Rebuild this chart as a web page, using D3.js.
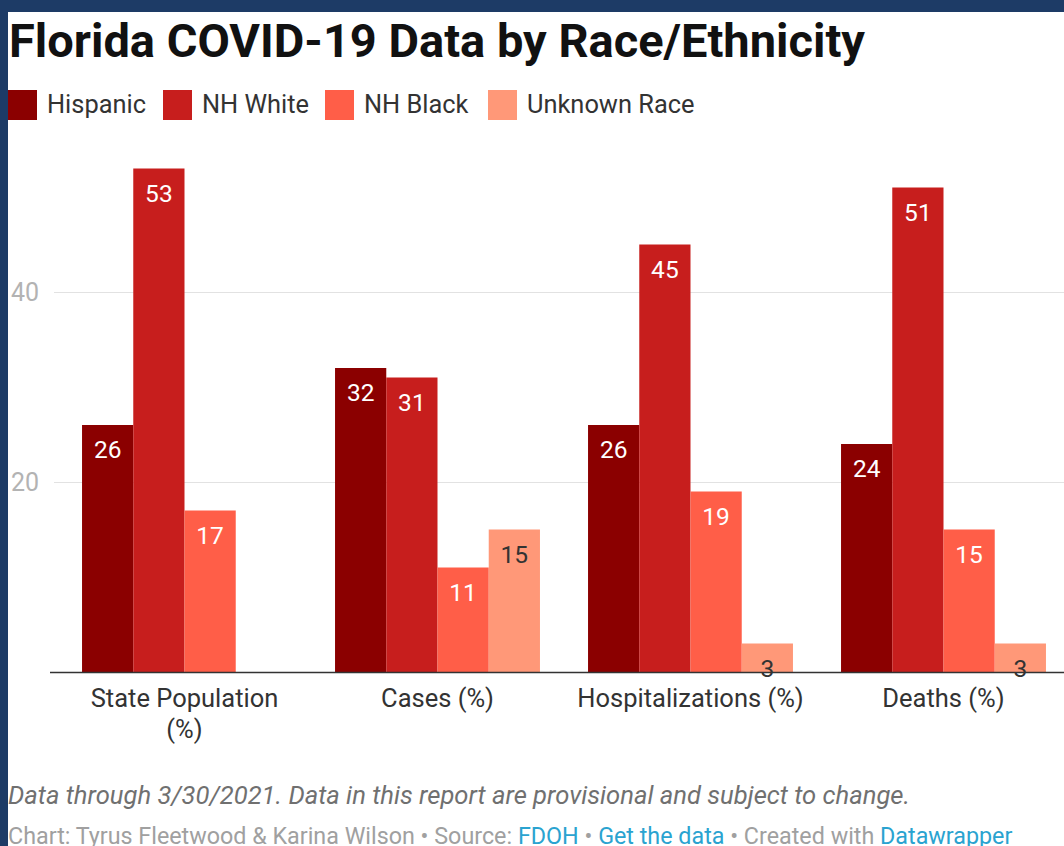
<!DOCTYPE html>
<html><head><meta charset="utf-8">
<script src="https://cdn.jsdelivr.net/npm/d3@7"></script>
<style>
html,body{margin:0;padding:0;background:#1d3b66;overflow:hidden;}
svg{display:block;font-family:Roboto,sans-serif;}
</style></head>
<body><svg id="c" width="1064" height="846"></svg>
<script>
const categories = ["State Population (%)", "Cases (%)", "Hospitalizations (%)", "Deaths (%)"];
const categoryLines = [["State Population", "(%)"], ["Cases (%)"], ["Hospitalizations (%)"], ["Deaths (%)"]];
const seriesNames = ["Hispanic", "NH White", "NH Black", "Unknown Race"];
const hispanic = [26, 32, 26, 24];
const nhWhite = [53, 31, 45, 51];
const nhBlack = [17, 11, 19, 15];
const unknownRace = [null, 15, 3, 3];
const colors = ["#8b0000", "#c71e1d", "#ff5e48", "#ff9878"];
const labelColors = ["#ffffff", "#ffffff", "#ffffff", "#333333"];
const yTicks = [20, 40];
const title = "Florida COVID-19 Data by Race/Ethnicity";
const note = "Data through 3/30/2021. Data in this report are provisional and subject to change.";

const seriesValues = [hispanic, nhWhite, nhBlack, unknownRace];
const W = 1064, H = 846;
const svg = d3.select("#c");

// white panel
svg.append("rect").attr("x", 8).attr("y", 12).attr("width", W - 8).attr("height", H - 12).attr("fill", "#fff");

// title
svg.append("text").attr("x", 9).attr("y", 57).attr("font-size", 47).attr("font-weight", 700)
  .attr("fill", "#111").text(title);

// legend
const legendX = [8, 163, 325, 488];
const lg = svg.append("g");
seriesNames.forEach((n, i) => {
  lg.append("rect").attr("x", legendX[i]).attr("y", 90).attr("width", 29).attr("height", 30).attr("fill", colors[i]);
  lg.append("text").attr("x", legendX[i] + 39).attr("y", 113).attr("font-size", 25.4).attr("fill", "#333").text(n);
});

// scales
const y = d3.scaleLinear().domain([0, 40]).range([672, 292]);
const x0 = d3.scaleBand().domain(categories).range([58, 1070]).paddingInner(0.19).paddingOuter(0.095);
const x1 = d3.scaleBand().domain(seriesNames).range([0, x0.bandwidth()]);

// grid axis
const gAxis = svg.append("g").attr("transform", `translate(${W},0)`)
  .call(d3.axisLeft(y).tickValues(yTicks).tickSize(W - 54).tickFormat(d3.format("d")));
gAxis.select(".domain").remove();
gAxis.selectAll(".tick line").attr("stroke", "#e2e2e2");
gAxis.selectAll(".tick text").attr("x", -(W - 11)).attr("text-anchor", "start")
  .attr("font-size", 25).attr("fill", "#b3b3b3").attr("font-family", "Roboto, sans-serif").attr("dy", "0.35em");

// bars
const data = [];
categories.forEach((c, ci) => seriesNames.forEach((s, si) => {
  const v = seriesValues[si][ci];
  if (v != null) data.push({ c, s, si, v });
}));
const bars = svg.append("g");
bars.selectAll("rect").data(data).join("rect")
  .attr("x", d => x0(d.c) + x1(d.s))
  .attr("y", d => y(d.v))
  .attr("width", x1.bandwidth())
  .attr("height", d => y(0) - y(d.v))
  .attr("fill", d => colors[d.si]);
bars.selectAll("text").data(data).join("text")
  .attr("x", d => x0(d.c) + x1(d.s) + x1.bandwidth() / 2)
  .attr("y", d => y(d.v) + 33)
  .attr("text-anchor", "middle").attr("font-size", 24.5)
  .attr("fill", d => labelColors[d.si]).text(d => d.v);

// x axis
const gx = svg.append("g").attr("transform", "translate(0,672)")
  .call(d3.axisBottom(x0).tickSize(0).tickFormat(""));
gx.select(".domain").attr("d", `M50,0.5H${W}`).attr("stroke", "#333").attr("stroke-width", 1.5);
gx.selectAll(".tick").each(function(d, i) {
  const t = d3.select(this).select("text").text(null).attr("y", 0).attr("dy", null)
    .attr("font-size", 25.5).attr("fill", "#333").attr("font-family", "Roboto, sans-serif");
  categoryLines[i].forEach((line, li) => {
    t.append("tspan").attr("x", 0).attr("y", 35 + li * 31).text(line);
  });
});

// footer
svg.append("text").attr("x", 8).attr("y", 804).attr("font-size", 25.6).attr("font-style", "italic")
  .attr("fill", "#707070").text(note);
const cr = svg.append("text").attr("x", 8).attr("y", 844).attr("font-size", 23.3).attr("fill", "#a0a0a0");
const parts = [["Chart: Tyrus Fleetwood & Karina Wilson • Source: ", false], ["FDOH", true], [" • ", false],
  ["Get the data", true], [" • Created with ", false], ["Datawrapper", true]];
parts.forEach(([t, link]) => cr.append("tspan").attr("fill", link ? "#2aa3d0" : "#a0a0a0").text(t));
</script></body></html>
